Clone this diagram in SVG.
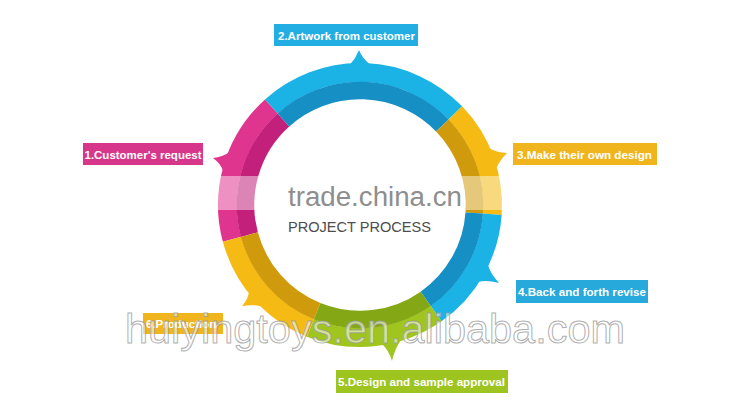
<svg xmlns="http://www.w3.org/2000/svg" width="750" height="412" viewBox="0 0 750 412">
<defs>
<style>
.lt{fill:none;stroke-width:19}
.dk{fill:none;stroke-width:17.5}
.lbl{font-family:"Liberation Sans",Arial,sans-serif;font-size:11.5px;font-weight:bold;fill:#ffffff}
.pk{fill:#e0358f;stroke:#e0358f}
.pkd{stroke:#c2207a}
.bl{stroke:#1bb3e6}
.bld{stroke:#168fc4}
.yl{stroke:#f5bb14}
.yld{stroke:#cf9b0d}
.gr{stroke:#a0c51e}
.grd{stroke:#84a815}
</style>
</defs>
<rect width="750" height="412" fill="#ffffff"/>

<g id="step1">
<path class="lt" stroke="#e0358f" d="M232.02,239.29 A132.5,132.5 0 0 1 271.34,106.54"/>
<path class="dk" stroke="#c2207a" d="M249.40,234.63 A114.5,114.5 0 0 1 283.39,119.92"/>
</g>
<g id="step2">
<path class="lt" stroke="#1bb3e6" d="M271.34,106.54 A132.5,132.5 0 0 1 455.31,112.95"/>
<path class="dk" stroke="#168fc4" d="M283.39,119.92 A114.5,114.5 0 0 1 442.36,125.46"/>
</g>
<g id="step3">
<path class="lt" stroke="#f5bb14" d="M455.31,112.95 A132.5,132.5 0 0 1 492.18,214.25"/>
<path class="dk" stroke="#cf9b0d" d="M442.36,125.46 A114.5,114.5 0 0 1 474.22,212.99"/>
</g>
<g id="step4">
<path class="lt" stroke="#1bb3e6" d="M492.18,214.25 A132.5,132.5 0 0 1 436.00,313.54"/>
<path class="dk" stroke="#168fc4" d="M474.22,212.99 A114.5,114.5 0 0 1 425.68,298.80"/>
</g>
<g id="step5">
<path class="lt" stroke="#a0c51e" d="M436.00,313.54 A132.5,132.5 0 0 1 310.37,327.85"/>
<path class="dk" stroke="#84a815" d="M425.68,298.80 A114.5,114.5 0 0 1 317.11,311.16"/>
</g>
<g id="step6">
<path class="lt" stroke="#f5bb14" d="M310.37,327.85 A132.5,132.5 0 0 1 232.02,239.29"/>
<path class="dk" stroke="#cf9b0d" d="M317.11,311.16 A114.5,114.5 0 0 1 249.40,234.63"/>
</g>

<g id="connectors">
<path fill="#e0358f" d="M223.2,170.9 Q220.5,163.5 213,158 Q222.6,157 229.3,152.2 Z"/>
<path fill="#1bb3e6" d="M350.2,64.3 Q356,58 359,50 Q362,58 369.8,64.3 Z"/>
<path fill="#f5bb14" d="M488.8,147.7 Q496.3,152.6 507,153 Q499.9,160 496.2,168.5 Z"/>
<path fill="#1bb3e6" d="M487.8,264.6 Q490.3,273.6 499,283 Q486.9,279.6 478.3,281.8 Z"/>
<path fill="#a0c51e" d="M401.2,339.8 Q395.1,347.9 392,361 Q388.4,349.5 382.1,344.3 Z"/>
<path fill="#f5bb14" d="M262.1,306.4 Q253.1,304.1 242,306 Q248.4,299 248.9,291.8 Z"/>
</g>

<rect x="212" y="176" width="296" height="34" fill="#ffffff" opacity="0.45"/>
<text x="288" y="205.5" font-family="'Liberation Sans',Arial,sans-serif" font-size="27.7" fill="#8e8e8e">trade.china.cn</text>
<g id="center">
<text x="288" y="232" font-family="'Liberation Sans',Arial,sans-serif" font-size="14.5" fill="#4d4d4d" textLength="143" lengthAdjust="spacingAndGlyphs">PROJECT PROCESS</text>
</g>

<g id="label1">
<rect x="83" y="143" width="120" height="22" fill="#d6378b"/>
<text class="lbl" x="84.5" y="158.5" textLength="117" lengthAdjust="spacingAndGlyphs">1.Customer's request</text>
</g>
<g id="label2">
<rect x="274" y="24" width="144" height="22" fill="#22aee2"/>
<text class="lbl" x="278" y="39.5" textLength="137" lengthAdjust="spacingAndGlyphs">2.Artwork from customer</text>
</g>
<g id="label3">
<rect x="513" y="143" width="144" height="22" fill="#f0b51c"/>
<text class="lbl" x="517" y="158.5" textLength="135" lengthAdjust="spacingAndGlyphs">3.Make their own design</text>
</g>
<g id="label4">
<rect x="516" y="280" width="132" height="23" fill="#27a9dc"/>
<text class="lbl" x="518" y="296" textLength="128" lengthAdjust="spacingAndGlyphs">4.Back and forth revise</text>
</g>
<g id="label5">
<rect x="336" y="370" width="172" height="23" fill="#9dc41f"/>
<text class="lbl" x="338" y="386" textLength="167" lengthAdjust="spacingAndGlyphs">5.Design and sample approval</text>
</g>
<g id="label6">
<rect x="143" y="313" width="80" height="21" fill="#f0b51c"/>
<text class="lbl" x="146" y="328">6.Production</text>
</g>

<text x="125" y="343" font-family="'Liberation Sans',Arial,sans-serif" font-size="41" fill="#ffffff" fill-opacity="0.55" stroke="#9a9a9a" stroke-width="1" stroke-opacity="0.8" textLength="500" lengthAdjust="spacingAndGlyphs">huiyingtoys.en.alibaba.com</text>
</svg>
